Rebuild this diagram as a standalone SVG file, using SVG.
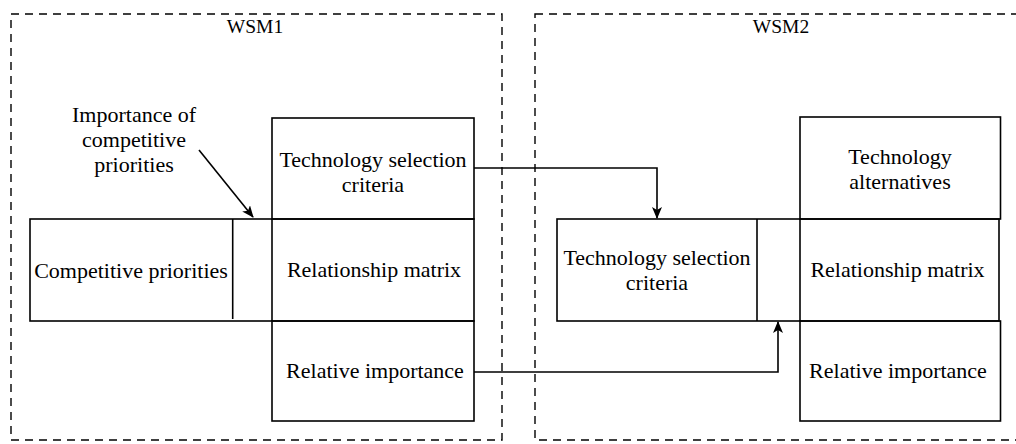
<svg xmlns="http://www.w3.org/2000/svg" width="1016" height="444" viewBox="0 0 1016 444" font-family="Liberation Serif, DejaVu Serif, serif">
<style>
text{font-family:'Liberation Serif','DejaVu Serif',serif;font-size:22px;fill:#000;text-anchor:middle}
.t{font-size:19.5px}
.box{fill:none;stroke:#000;stroke-width:1.6}
.dash{fill:none;stroke:#000;stroke-width:1.4;stroke-dasharray:8 6}
.ln{fill:none;stroke:#000;stroke-width:1.6}
</style>
<defs>
<marker id="ah" markerWidth="12" markerHeight="10" refX="11" refY="5" orient="auto" markerUnits="userSpaceOnUse">
<path d="M0,0 L12,5 L0,10 L3,5 Z" fill="#000"/>
</marker>
</defs>
<g id="wsm1">
<rect class="dash" x="11" y="14" width="491" height="426"/>
<text class="t" x="255" y="33">WSM1</text>
</g>
<g id="wsm2">
<rect class="dash" x="535" y="14" width="500" height="426"/>
<text class="t" x="781" y="33">WSM2</text>
</g>
<g id="w1-tech">
<rect class="box" x="272" y="118" width="202" height="101"/>
<text x="373" y="167">Technology selection</text>
<text x="373" y="192">criteria</text>
</g>
<g id="w1-row">
<rect class="box" x="30" y="219" width="444" height="102"/>
<line class="ln" x1="232.7" y1="219" x2="232.7" y2="319"/>
<line class="ln" x1="272" y1="219" x2="272" y2="321"/>
<text x="131" y="278">Competitive priorities</text>
<text x="374" y="277">Relationship matrix</text>
</g>
<g id="w1-rel">
<rect class="box" x="272" y="321" width="202" height="100"/>
<text x="375" y="378">Relative importance</text>
</g>
<g id="label-importance">
<text x="134" y="122">Importance of</text>
<text x="134" y="147">competitive</text>
<text x="134" y="172">priorities</text>
</g>
<g id="w2-alt">
<rect class="box" x="800" y="117" width="200.5" height="102"/>
<text x="900" y="164">Technology</text>
<text x="900" y="189">alternatives</text>
</g>
<g id="w2-row">
<rect class="box" x="557" y="219" width="442" height="102"/>
<line class="ln" x1="757" y1="219" x2="757" y2="321"/>
<line class="ln" x1="800" y1="219" x2="800" y2="321"/>
<text x="657" y="265">Technology selection</text>
<text x="657" y="290">criteria</text>
<text x="897.5" y="277">Relationship matrix</text>
</g>
<g id="w2-rel">
<rect class="box" x="800" y="321" width="200.5" height="100"/>
<text x="898" y="378">Relative importance</text>
</g>
<g id="connectors">
<line class="ln" x1="199" y1="150" x2="253" y2="217" marker-end="url(#ah)"/>
<polyline class="ln" points="474,168 657,168 657,218" marker-end="url(#ah)"/>
<polyline class="ln" points="474,372 778,372 778,322" marker-end="url(#ah)"/>
</g>
</svg>
